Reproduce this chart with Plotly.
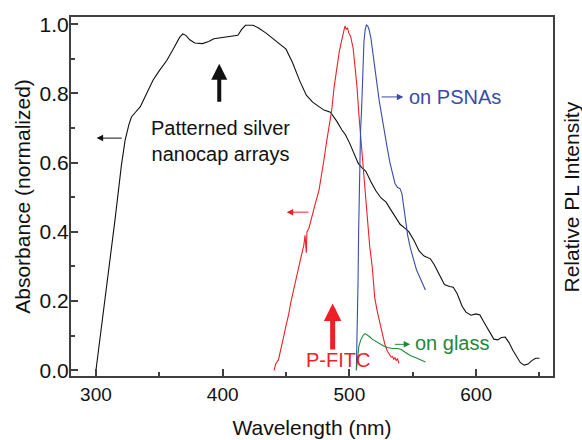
import plotly.graph_objects as go

# ---------------- data ----------------
abs_x = [300, 305, 310, 315, 320, 323, 326, 328, 331, 335, 340, 345, 350, 356, 362, 366, 368.5, 371, 374, 378,
         384, 389, 393, 400, 405, 409, 412, 415, 418, 424, 428, 434, 440, 446, 450, 455, 458, 461, 466, 471,
         476, 480, 485, 490, 494, 497, 500, 504, 507, 510, 513, 517, 521, 525, 529, 532, 535, 540, 544, 547,
         551, 555, 559, 564, 567, 571, 575, 579, 582, 585, 589, 592, 596, 600, 603, 606, 610, 614, 617, 620,
         623, 626, 629, 632, 635, 638, 641, 644, 647, 650]
abs_y = [0.0, 0.14, 0.29, 0.434, 0.59, 0.665, 0.71, 0.732, 0.745, 0.762, 0.80, 0.838, 0.866, 0.896, 0.935, 0.962, 0.972, 0.968, 0.955, 0.946,
         0.944, 0.95, 0.958, 0.961, 0.964, 0.966, 0.968, 0.985, 0.997, 0.997, 0.99, 0.975, 0.958, 0.94, 0.928, 0.89, 0.86, 0.835, 0.795, 0.775,
         0.762, 0.752, 0.746, 0.72, 0.695, 0.68, 0.658, 0.625, 0.598, 0.585, 0.575, 0.545, 0.518, 0.498, 0.486, 0.468, 0.452, 0.422, 0.41, 0.40,
         0.375, 0.345, 0.33, 0.322, 0.305, 0.275, 0.248, 0.242, 0.24, 0.222, 0.185, 0.168, 0.159, 0.163, 0.16, 0.14, 0.115, 0.09, 0.088, 0.095,
         0.096, 0.08, 0.058, 0.038, 0.022, 0.015, 0.018, 0.028, 0.035, 0.035]

fitc_x = [440.5, 442, 444, 446, 448, 450, 452, 454, 456, 458, 460, 462, 464, 465, 466, 466.5, 468, 470, 473, 476,
          478, 480, 482, 484, 486, 488, 490, 492, 494, 495.5, 496.5, 497.5, 498.5, 499.5, 501, 503, 504.5, 506, 507.5, 509,
          511, 513, 514.5, 516, 518, 520, 522, 524, 526, 528, 530, 531.5, 533, 534, 535, 536, 537, 538, 539]
fitc_y = [0.0, 0.02, 0.03, 0.06, 0.095, 0.13, 0.16, 0.2, 0.235, 0.27, 0.3, 0.33, 0.36, 0.39, 0.34, 0.40, 0.41, 0.44, 0.48, 0.52,
          0.56, 0.61, 0.66, 0.70, 0.75, 0.82, 0.87, 0.92, 0.955, 0.985, 0.995, 0.985, 0.99, 0.975, 0.965, 0.93, 0.88, 0.82, 0.74, 0.67,
          0.60, 0.49, 0.42, 0.36, 0.30, 0.21, 0.17, 0.135, 0.10, 0.075, 0.055, 0.045, 0.038, 0.04, 0.032, 0.036, 0.028, 0.034, 0.02]

psna_x = [505.5, 506.2, 506.8, 507.3, 508, 508.8, 509.7, 510.5, 511.5, 512.5, 513.5, 514.5, 515.5, 517, 519, 521.5, 523.5, 525.5,
          528, 530, 532, 534, 536, 538, 540, 541.5, 543, 544.5, 546, 548, 550, 553, 556, 560]
psna_y = [0.0, 0.1, 0.25, 0.4, 0.55, 0.69, 0.76, 0.88, 0.95, 0.985, 0.998, 0.995, 0.985, 0.96, 0.91, 0.835, 0.78, 0.735,
          0.675, 0.64, 0.6, 0.565, 0.54, 0.528, 0.525, 0.51, 0.47, 0.43, 0.39, 0.355, 0.33, 0.29, 0.265, 0.232]

glass_x = [505.5, 506.5, 507.5, 509, 511, 512.5, 514, 516, 518, 521, 524, 527, 530, 534, 538, 541, 544, 548, 552, 556, 560]
glass_y = [0.0, 0.04, 0.07, 0.088, 0.102, 0.106, 0.103, 0.097, 0.09, 0.083, 0.077, 0.07, 0.066, 0.063, 0.063, 0.06, 0.052, 0.043, 0.037, 0.03, 0.024]

x_ticks = [300, 400, 500, 600]
y_ticks = [0.0, 0.2, 0.4, 0.6, 0.8, 1.0]
y_ticklabels = ["0.0", "0.2", "0.4", "0.6", "0.8", "1.0"]

BLACK = "#111111"
RED = "#ef1f26"
BLUE = "#3a4ca6"
GREEN = "#21883a"
FRAME = "#404040"
FONT = "Liberation Sans, Arial, sans-serif"

fig = go.Figure()
fig.add_trace(go.Scatter(x=abs_x, y=abs_y, mode="lines", line=dict(color=BLACK, width=1.1), showlegend=False))
fig.add_trace(go.Scatter(x=fitc_x, y=fitc_y, mode="lines", line=dict(color=RED, width=1.1), showlegend=False))
fig.add_trace(go.Scatter(x=psna_x, y=psna_y, mode="lines", line=dict(color=BLUE, width=1.1), showlegend=False, yaxis="y2"))
fig.add_trace(go.Scatter(x=glass_x, y=glass_y, mode="lines", line=dict(color=GREEN, width=1.1), showlegend=False, yaxis="y2"))

YR = [-0.0165, 1.021]

fig.update_layout(
    width=582, height=440,
    margin=dict(l=71, r=29, t=17, b=64),
    paper_bgcolor="white", plot_bgcolor="white",
    font=dict(family=FONT, size=19, color="#111111"),
    xaxis=dict(range=[280.3, 660.7], tickvals=x_ticks, ticks="inside", ticklen=7, tickwidth=1.5,
               tickcolor=FRAME, showline=True, linecolor=FRAME, linewidth=2, mirror=True,
               showgrid=False, zeroline=False, ticklabelstandoff=0, automargin=False,
               minor=dict(dtick=50, tick0=300, ticks="inside", ticklen=4, tickwidth=1.5, tickcolor=FRAME, showgrid=False),
               title=dict(text="Wavelength (nm)", font=dict(size=21), standoff=17)),
    yaxis=dict(range=YR, tickvals=y_ticks, ticktext=y_ticklabels, ticks="inside", ticklen=7, tickwidth=1.5,
               tickcolor=FRAME, showline=True, linecolor=FRAME, linewidth=2, mirror=True,
               showgrid=False, zeroline=False, ticklabelstandoff=-4, automargin=False,
               tickfont=dict(size=21),
               minor=dict(dtick=0.1, tick0=0, ticks="inside", ticklen=4, tickwidth=1.5, tickcolor=FRAME, showgrid=False),
               title=dict(text="Absorbance (normalized)", font=dict(size=21), standoff=3)),
    yaxis2=dict(range=YR, overlaying="y", side="right", showticklabels=False, ticks="",
                showgrid=False, zeroline=False, showline=False, automargin=False),
)

def arrow(x, y, ax, ay, color, width, head, size, yref="y"):
    fig.add_annotation(x=x, y=y, ax=ax, ay=ay, xref="x", yref=yref, axref="x", ayref=yref,
                       text="", showarrow=True, arrowhead=head, arrowsize=size, arrowwidth=width,
                       arrowcolor=color, standoff=0)

# big arrows
arrow(397.3, 0.886, 397.3, 0.772, BLACK, 4, 2, 0.8)
arrow(486.8, 0.193, 486.8, 0.056, RED, 5, 2, 0.7)
# small pointer arrows
arrow(300.5, 0.671, 321.5, 0.671, BLACK, 1, 2, 1.3)
arrow(450.5, 0.457, 468.9, 0.457, RED, 1, 2, 1.3)
arrow(542.6, 0.790, 524.2, 0.790, BLUE, 1, 2, 1.3, yref="y2")
arrow(548.0, 0.075, 534.7, 0.075, GREEN, 1, 2, 1.3, yref="y2")

fig.add_annotation(x=397.9, y=0.664, xref="x", yref="y", text="Patterned silver<br>nanocap arrays",
                   showarrow=False, font=dict(size=20, color=BLACK), align="center")
fig.add_annotation(x=545.2, y=0.79, xref="x", yref="y2", text="on PSNAs", xanchor="left",
                   showarrow=False, font=dict(size=20, color=BLUE))
fig.add_annotation(x=550.5, y=0.08, xref="x", yref="y2", text="on glass", xanchor="left",
                   showarrow=False, font=dict(size=20, color=GREEN))
fig.add_annotation(x=491.3, y=0.03, xref="x", yref="y", text="P-FITC",
                   showarrow=False, font=dict(size=20, color=RED))
# right-hand axis title
fig.add_annotation(x=1.0394, y=0.5, xref="paper", yref="paper", text="Relative PL Intensity",
                   textangle=-90, showarrow=False, xanchor="center", yanchor="middle",
                   font=dict(size=21, color="#111111"))

# remove the default 8px page margin so the 582x440 figure fills the window exactly
fig.write_html("out.html", config={"displayModeBar": False},
               post_script="document.body.style.margin='0';document.body.style.overflow='hidden';")
